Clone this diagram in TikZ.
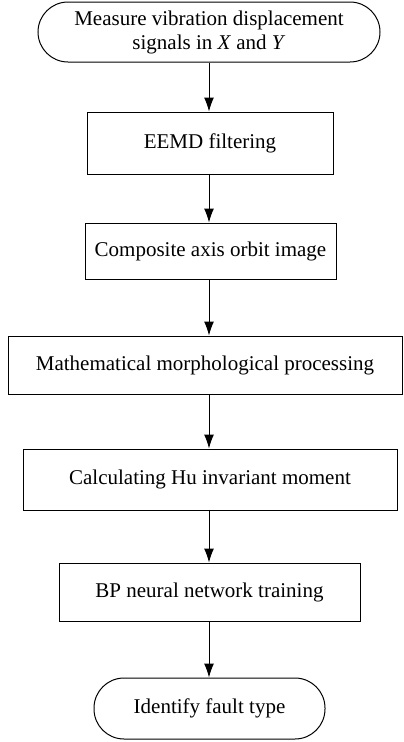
\documentclass[tikz,border=0pt]{standalone}
\usepackage{fontspec}
\setmainfont{Liberation Serif}
\usetikzlibrary{arrows.meta}
\begin{document}
\begin{tikzpicture}[x=1pt,y=1pt,
  every node/.style={font=\fontsize{21}{24}\selectfont, align=center, inner sep=0pt},
  box/.style={draw, line width=1pt, rectangle},
  term/.style={draw, line width=1pt, rectangle, rounded corners=30pt},
  arr/.style={line width=1pt, -{Latex[length=14pt,width=10pt]}}]
\useasboundingbox (0,0) rectangle (404,-742);
\node[term, minimum width=342pt, minimum height=60pt] (n1) at (209,-32) {Measure vibration displacement\\signals in \textit{X} and \textit{Y}};
\node[box, minimum width=246pt, minimum height=62pt] (n2) at (210,-143) {EEMD filtering};
\node[box, minimum width=251pt, minimum height=56pt] (n3) at (210.5,-251) {Composite axis orbit image};
\node[box, minimum width=394pt, minimum height=58pt] (n4) at (205,-365) {Mathematical morphological processing};
\node[box, minimum width=374pt, minimum height=61pt] (n5) at (210,-479.5) {Calculating Hu invariant moment};
\node[box, minimum width=301pt, minimum height=58pt] (n6) at (209.5,-592) {BP neural network training};
\node[term, minimum width=231pt, minimum height=61pt] (n7) at (209.5,-708.5) {Identify fault type};
\coordinate (ax) at (209,0);
\draw[arr] (ax |- n1.south) -- (ax |- n2.north);
\draw[arr] (ax |- n2.south) -- (ax |- n3.north);
\draw[arr] (ax |- n3.south) -- (ax |- n4.north);
\draw[arr] (ax |- n4.south) -- (ax |- n5.north);
\draw[arr] (ax |- n5.south) -- (ax |- n6.north);
\draw[arr] (ax |- n6.south) -- (ax |- n7.north);
\end{tikzpicture}
\end{document}
